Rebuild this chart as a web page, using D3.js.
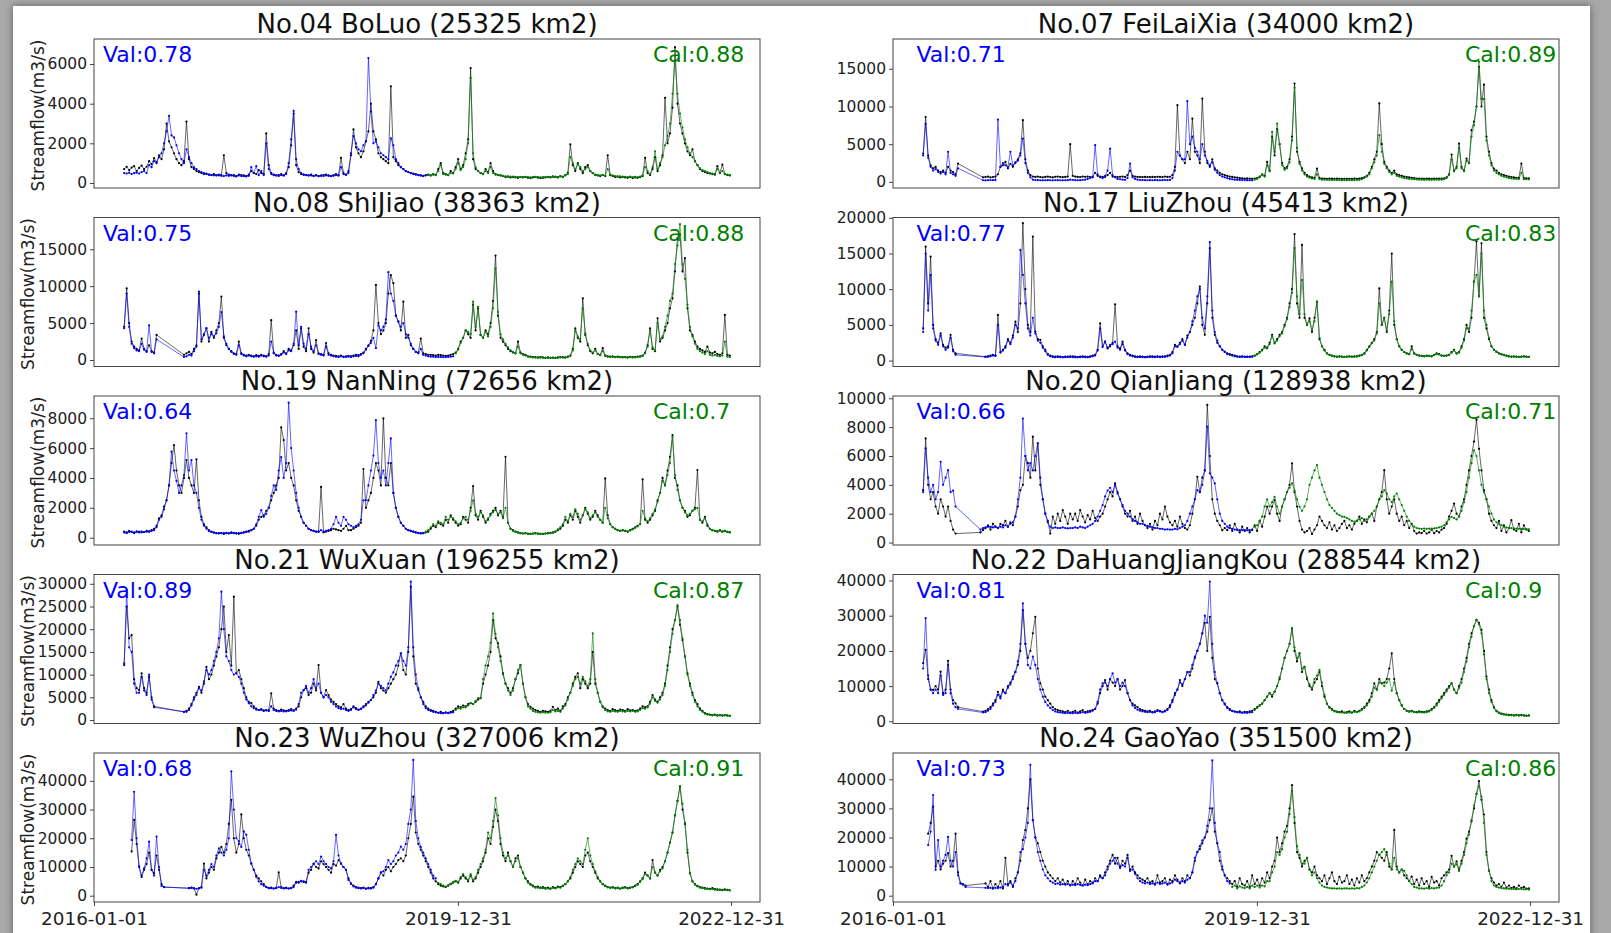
<!DOCTYPE html>
<html>
<head>
<meta charset="utf-8">
<script src="https://cdn.jsdelivr.net/npm/d3@7"></script>
<style>
  body { margin: 0; background: #a9a9a9; }
  svg { display: block; font-family: "DejaVu Sans", sans-serif; }
</style>
</head>
<body>
<script>
// ten gauging stations, row-major order (left, right)
var stationNames = ["No.04 BoLuo (25325 km2)", "No.07 FeiLaiXia (34000 km2)",
    "No.08 ShiJiao (38363 km2)", "No.17 LiuZhou (45413 km2)",
    "No.19 NanNing (72656 km2)", "No.20 QianJiang (128938 km2)",
    "No.21 WuXuan (196255 km2)", "No.22 DaHuangJiangKou (288544 km2)",
    "No.23 WuZhou (327006 km2)", "No.24 GaoYao (351500 km2)"];
var valScores = [0.78, 0.71, 0.75, 0.77, 0.64, 0.66, 0.89, 0.81, 0.68, 0.73];
var calScores = [0.88, 0.89, 0.88, 0.83, 0.7, 0.71, 0.87, 0.9, 0.91, 0.86];
// last day of validation period (simulation drawn blue before, green after)
var valEndDates = ["2019-09-03", "2019-12-22", "2019-12-22", "2019-12-22", "2019-08-24",
    "2019-12-22", "2019-12-22", "2019-12-22", "2019-10-13", "2019-09-23"];
var yTicks = [[0, 2000, 4000, 6000], [0, 5000, 10000, 15000],
    [0, 5000, 10000, 15000], [0, 5000, 10000, 15000, 20000],
    [0, 2000, 4000, 6000, 8000], [0, 2000, 4000, 6000, 8000, 10000],
    [0, 5000, 10000, 15000, 20000, 25000, 30000], [0, 10000, 20000, 30000, 40000],
    [0, 10000, 20000, 30000, 40000], [0, 10000, 20000, 30000, 40000]];
var yLimits = [[-252, 7262], [-810, 18950], [-880, 19300], [-830, 20040], [-490, 9490],
    [-170, 10160], [-770, 32050], [-625, 41700], [-2200, 49700], [-2170, 49040]];
var xTickDates = ["2016-01-01", "2019-12-31", "2022-12-31"];
var xLimits = ["2016-01-01", "2023-04-26"];

// streamflow samples every 10 days from 2016-05-01 (m3/s); null = missing
var SERIES_START = "2016-05-01", STEP_DAYS = 10;

var boluoObs = [
700,820,650,780,850,600,760,880,700,820,
1100,950,1250,1050,1400,1200,1700,3000,2100,1800,
1500,1200,1000,900,1100,3100,1200,800,700,600,
550,500,450,480,420,400,450,380,420,400,
1400,500,420,380,400,350,420,400,380,350,
420,600,500,450,650,500,450,2500,900,500,
420,380,400,450,380,500,800,1900,3500,900,
550,450,420,400,380,420,360,400,350,380,
400,420,380,350,400,450,380,1270,500,420,
600,1400,2700,1800,1500,1300,1600,2100,2600,4000,
2600,2200,1500,1300,1200,1100,1000,4880,1300,1100,
900,800,700,600,550,500,480,450,400,380,
350,400,420,380,450,400,700,1000,500,450,
400,600,500,800,1200,700,900,1500,2200,5800,
1200,700,600,500,450,700,550,1000,600,450,
400,380,350,300,320,280,300,280,260,300,
280,300,260,250,280,300,270,250,260,280,
300,280,320,300,280,350,300,400,500,1950,
900,600,1000,700,500,800,900,600,500,400,
380,350,400,350,1400,400,350,300,320,280,
300,280,260,300,250,280,260,300,350,1270,
500,400,700,1300,600,900,1400,4300,2000,2500,
3800,6850,4000,3000,2500,2000,1600,1400,1700,1100,
900,700,600,550,500,480,450,420,850,500,
930,450,400,380];
var boluoSim = [
500,480,520,450,500,520,480,550,600,500,
900,800,1100,1000,1300,1500,2000,2600,3390,2400,
2300,1900,1500,1200,1000,1700,1300,1000,800,700,
600,550,500,450,420,400,380,400,380,360,
350,380,360,400,350,330,380,350,340,330,
360,800,500,850,400,600,400,2000,700,450,
400,380,350,400,380,450,1000,2200,3640,1200,
700,500,420,400,380,380,350,380,340,360,
350,380,360,340,360,400,380,800,450,400,
500,1500,2370,2000,1700,1600,1900,2100,6300,3600,
2000,2100,1800,1500,1400,1300,1200,2250,1900,1200,
1000,800,700,600,550,500,450,420,400,380,
360,380,400,380,420,400,600,900,450,420,
400,500,480,700,1000,650,800,1200,2000,5300,
1500,800,600,500,450,600,500,800,500,420,
400,380,360,340,330,320,320,310,300,300,
300,310,300,290,300,310,300,290,300,300,
310,300,330,320,300,330,320,380,450,1300,
1000,700,950,800,600,700,800,600,500,420,
400,380,400,370,700,420,380,350,340,330,
320,310,300,320,300,310,300,320,380,800,
600,450,800,1600,700,1000,1300,1900,2370,3000,
4500,6190,4500,3500,2800,2200,1800,1500,1300,1100,
900,750,650,600,550,500,480,450,700,500,
600,450,420,400];

var feilaixiaObs = [
3760,8600,3500,2200,1800,2000,1500,1300,1500,1200,
2000,1500,1300,1000,2430,null,null,null,null,null,
null,null,null,null,600,660,700,600,650,700,
1000,2000,2200,2650,1800,2400,2000,2600,3000,3800,
8190,3000,1500,900,700,660,700,650,600,660,
700,650,600,680,700,650,620,660,700,5000,
800,700,660,650,700,680,700,650,660,1200,
800,700,660,650,900,1200,700,660,650,680,
700,660,900,1500,800,700,660,650,640,660,
650,640,660,650,680,660,650,700,660,680,
900,2000,10180,3500,3000,2500,4000,3000,8400,4000,
3500,2500,11060,4000,2500,2000,3000,1800,1500,1200,
1000,900,800,700,660,600,560,500,480,450,
460,440,420,450,500,700,1000,800,2650,1500,
6000,3500,7000,5000,2500,1800,2000,3000,6000,13050,
4000,2650,1800,1200,900,700,600,550,1770,500,
440,450,420,440,430,420,440,420,400,420,
410,420,400,430,420,450,500,600,800,1200,
2000,3000,4000,10400,5000,2650,2000,1500,1200,1500,
1000,900,800,700,650,600,550,500,450,440,
430,420,440,430,420,440,450,430,440,460,
600,1000,3630,1500,2000,5090,2000,1500,3100,2500,
6860,8000,10000,15270,10000,12900,6000,4000,2500,1770,
1500,1200,1000,900,800,700,650,600,550,520,
2430,500,480,470];
var feilaixiaSim = [
3500,7700,3200,2000,1500,1700,1300,1100,1300,1000,
4000,1200,1000,800,1800,null,null,null,null,null,
null,null,null,null,220,200,220,250,230,240,
8270,2000,2500,2200,2000,4000,2200,2500,2800,3500,
5750,2500,1200,600,300,250,230,220,210,220,
230,220,210,220,230,220,210,220,230,300,
250,230,220,230,250,300,400,500,600,4870,
1000,600,500,800,1500,4400,900,600,400,350,
300,280,500,2430,600,400,300,250,240,230,
220,230,220,240,230,220,230,250,240,260,
500,1500,4000,3500,3000,3000,10700,5000,6000,4500,
4000,3000,5000,3500,2800,2200,2600,1600,1200,900,
700,600,500,400,350,300,280,260,250,240,
230,220,210,300,400,600,900,700,2200,1400,
6640,4000,7740,5000,2200,1600,1800,2600,5500,12500,
4500,2400,1500,1000,700,550,450,400,1000,380,
300,280,270,260,250,250,240,240,230,240,
230,240,230,240,250,280,350,500,700,1000,
1800,2600,3500,6200,4000,2400,1800,1300,1000,1200,
800,700,600,500,450,400,380,350,320,300,
290,280,290,280,270,290,300,290,300,350,
500,900,3000,1400,1800,4500,1800,1400,2800,2500,
6000,7500,10000,15930,11000,11000,5500,3500,2200,1500,
1200,1000,800,700,600,500,450,420,400,380,
1200,360,350,340];

var shijiaoObs = [
4500,9700,5000,2500,1800,1500,1300,2900,1500,1200,
2000,1200,1000,3400,null,null,null,null,null,null,
null,null,null,null,700,900,1100,800,1500,2000,
9000,2500,3400,4300,2500,3800,3000,4000,5000,8600,
3000,2000,1500,1200,900,800,2500,900,700,600,
700,600,500,650,550,700,600,500,800,5400,
1000,700,600,800,1200,900,1500,1300,2000,4000,
1500,4300,1800,1200,4300,1500,1000,2700,900,800,
700,2300,900,700,600,550,500,600,450,500,
550,500,600,700,650,800,1000,1500,2000,2600,
4000,10170,5000,3500,4000,5000,9000,11500,10400,6000,
5200,4000,7900,3000,3400,2000,1500,1100,1000,2900,
900,800,700,700,650,600,700,650,600,550,
600,700,800,1000,1500,2500,3000,4000,3500,3000,
7500,4000,7000,3400,3000,4000,3500,5000,8000,14150,
6000,3000,2500,2000,1500,1200,1000,900,2500,1000,
800,700,500,450,400,380,350,400,350,300,
350,300,320,300,350,400,380,350,450,600,
1500,4300,3000,2500,8360,3400,2000,1200,900,1500,
800,700,1600,600,500,450,500,400,450,400,
380,400,350,420,380,400,450,500,600,1000,
2000,4300,1500,1200,5650,2500,3000,4000,5000,7000,
8360,12000,16500,17000,12000,13800,7000,4000,3400,2500,
1800,1500,1300,1100,1800,1000,900,1100,800,700,
900,6100,700,600];
var shijiaoSim = [
4300,9000,4500,2200,1600,1300,1200,2200,1400,1100,
4700,1100,900,2800,null,null,null,null,null,null,
null,null,null,null,400,500,700,600,1200,1800,
9270,2800,3500,4300,3000,3500,3200,3600,4500,6500,
3200,2200,1500,1100,800,700,2000,800,600,500,
600,500,450,500,450,600,500,450,600,2500,
900,600,550,700,1000,800,1300,1200,2200,6550,
2000,4500,2200,1500,3500,1800,1200,2000,800,700,
600,1800,700,600,500,450,400,500,400,420,
450,420,500,550,500,700,900,1400,1900,2300,
3000,1600,4700,4000,4500,5500,11900,9000,8000,6000,
5200,4500,5000,3500,3000,2200,1500,1100,900,1500,
700,600,500,450,450,400,420,400,380,400,
420,450,500,900,1400,2300,3000,4000,3800,3500,
7900,4500,7200,3400,3000,3800,3200,4500,7000,12400,
6500,3500,2800,2200,1700,1300,1100,900,1800,900,
700,600,450,400,350,330,300,320,300,280,
300,280,300,280,300,350,330,300,400,550,
1300,4000,3200,2800,7000,3600,2200,1300,1000,1300,
800,650,1200,550,450,400,420,380,400,370,
350,360,330,380,350,360,400,450,550,900,
1800,4000,1700,1300,5000,2800,3200,4500,6000,8000,
9000,13000,15500,18400,13000,11000,7500,4500,3200,2200,
1500,1200,1000,800,1200,700,600,700,550,500,
600,2500,450,400];

var liuzhouObs = [
4500,15960,8000,14560,5000,3000,2500,3800,2200,1800,
2000,3600,1500,1000,null,null,null,null,null,null,
null,null,null,null,null,550,600,700,800,700,
6400,1200,1500,2000,3000,2500,3500,5450,4000,8000,
19240,10000,5000,4000,17380,4060,3000,2900,2000,1500,
900,700,600,550,600,550,500,560,550,600,
580,550,500,550,600,550,520,600,700,800,
1500,5230,2000,2650,1700,2000,2500,7890,2000,1700,
2650,1500,1000,800,700,600,550,600,550,500,
550,600,580,550,600,560,580,600,700,800,
1200,2200,2000,2500,3000,2200,3500,4000,5000,6000,
8000,10370,5000,3600,8000,15740,6000,3600,2500,2000,
1500,1250,1000,900,800,700,600,550,600,550,
560,550,600,700,900,1200,1500,2000,1800,2500,
3600,2500,3000,3600,4000,5000,6000,8000,10000,17700,
8000,6000,16200,6000,5000,5900,4000,6000,8260,3000,
2000,1500,1000,800,700,600,550,600,550,520,
550,600,550,580,600,700,800,1000,1500,2000,
2500,3000,4000,10100,5000,6000,4000,7000,15000,5000,
3000,2000,1500,1200,1000,900,2000,1000,800,700,
650,600,700,650,600,800,1000,900,700,650,
700,800,1200,1500,1000,1200,2000,3000,5000,4000,
6000,11050,16680,9000,16430,6000,4500,3000,2000,1500,
1250,1000,900,800,700,600,550,580,550,520,
550,600,540,520];
var liuzhouSim = [
4000,15000,7000,12000,4500,2800,2200,3500,2000,1500,
1800,3200,1300,800,null,null,null,null,null,null,
null,null,null,null,null,500,550,600,700,650,
5000,1100,1400,1800,2800,2300,3200,5000,4500,15500,
12000,8000,4500,3500,6000,3800,2800,2500,1800,1300,
800,600,500,450,500,480,450,480,470,500,
480,460,450,470,500,480,460,500,600,700,
1400,4500,1900,2650,1800,2200,2300,2650,1800,1500,
2300,1400,900,700,600,500,480,500,470,450,
480,500,490,470,500,480,500,520,600,700,
1000,2000,1900,2300,2800,2200,3200,4000,5500,7000,
9000,10000,6000,4500,9000,16580,7000,4000,2800,2000,
1500,1200,900,800,700,600,550,500,520,500,
500,490,520,650,850,1100,1400,1800,1700,2300,
3400,2400,2800,3400,3800,4800,5800,7500,9500,15740,
9000,6500,11300,6500,5000,5500,4200,5500,8260,3200,
2000,1400,1000,800,650,580,530,550,520,500,
520,550,520,540,560,650,750,950,1400,1900,
2400,2800,3800,8000,5000,6000,4200,6500,11050,5500,
3000,2000,1500,1200,1000,900,1600,1000,800,700,
650,600,650,620,600,750,900,850,700,650,
700,750,1100,1400,1000,1100,1800,2800,4500,4500,
7000,11050,12000,9000,15000,7000,5000,3200,2000,1500,
1200,1000,850,750,650,580,530,550,520,500,
520,560,510,500];

var nanningObs = [
400,350,450,380,300,420,350,400,380,450,
420,500,600,800,1300,1500,2080,2500,3500,5000,
6200,4500,3500,3000,4000,5200,4000,3500,3000,5250,
2500,1400,900,700,500,400,350,300,280,300,
250,300,280,320,300,280,260,300,350,400,
450,500,600,800,1200,1400,1500,1800,2000,2500,
3000,3500,4000,7390,6540,4500,5000,4000,3500,2500,
1800,1400,1000,800,600,500,450,400,400,3400,
350,400,450,500,600,550,500,450,600,800,
500,500,600,700,800,1000,4600,2000,2500,3000,
4000,5000,4500,3500,7990,4000,3500,5000,3000,2000,
1400,1000,800,600,500,450,400,350,300,280,
300,350,400,600,800,700,1000,900,800,1200,
1000,1500,1200,1000,800,900,1400,1200,1000,2000,
3460,1500,1200,1800,1400,1000,1200,1600,1800,2000,
1500,1800,1400,5420,1000,600,500,400,350,300,
280,300,260,250,280,300,270,260,250,280,
300,320,350,400,500,600,800,1200,1000,1500,
1200,1800,1400,1000,1500,2000,1600,1200,1400,1800,
1500,1200,1000,3970,1500,900,700,600,500,450,
500,450,400,500,600,700,800,900,3900,1200,
1000,1200,1500,1800,2500,3000,4000,3500,4500,5420,
6870,4000,3500,2500,2000,1800,1400,1500,1800,2000,
4530,1200,1000,1400,800,600,500,450,400,500,
400,450,380,350];
var nanningSim = [
350,300,380,400,350,380,400,350,380,400,
400,450,500,700,1200,1400,1900,2500,3500,5760,
4500,3800,3000,3500,4200,6990,4500,5200,3500,3000,
2000,1200,800,600,450,380,330,300,300,320,
300,320,300,350,320,300,300,320,350,380,
400,500,600,900,1400,1850,1400,1600,2000,2800,
3500,3200,4500,5400,4000,5000,9040,6000,4500,3000,
2000,1400,1000,800,600,500,450,400,400,500,
400,450,500,600,900,1400,1000,800,1400,1200,
900,800,700,800,900,1200,2500,2500,3500,4500,
5500,7880,5000,4000,4500,3500,5000,6650,3000,2000,
1400,1000,800,600,500,450,400,350,320,300,
300,400,500,700,900,800,1100,1000,900,1400,
1200,1400,1300,1100,900,1000,1300,1400,1200,1800,
2500,1600,1400,1700,1500,1100,1300,1500,1700,1850,
1600,1700,1300,2000,1000,600,450,380,330,300,
280,290,270,260,270,280,270,260,250,270,
280,300,320,400,550,700,900,1400,1100,1600,
1400,1900,1600,1200,1500,1900,1700,1300,1500,1700,
1400,1200,1000,2000,1300,900,700,600,500,450,
480,450,420,480,550,650,750,900,1800,1300,
1100,1300,1600,1900,2400,3000,3800,3500,4200,5000,
6760,4200,3200,2500,2000,1700,1500,1600,1800,1900,
2000,1200,1100,1300,900,600,500,450,450,470,
420,430,400,380];

var qianjiangObs = [
3630,7220,4000,3000,3500,2500,2000,3000,2500,1800,
2500,1500,900,620,null,null,null,null,null,null,
null,null,null,700,860,1000,1200,900,1300,1100,
1000,1300,1200,1500,1100,1400,1200,1800,2500,3630,
4000,6000,5500,4500,7340,5000,6880,4000,3000,2000,
1500,620,1800,1300,2000,1500,2250,1800,1300,2000,
1600,2000,1500,2250,1800,1400,1900,1600,2200,1700,
1500,1800,2000,2500,3000,3500,3200,4100,3500,3000,
2500,2000,1800,2200,1500,1800,1300,2000,1500,1200,
1000,1300,900,1500,1200,2000,1600,2500,1800,1400,
1200,1500,1100,1800,1300,1000,900,1200,2000,3000,
4560,3500,4500,5000,9540,6000,3000,2000,1500,1200,
860,1000,860,1200,800,1300,900,700,1100,800,
1000,700,900,1200,800,1500,1100,1800,2500,2000,
2500,2940,2000,1500,2500,3000,3500,4000,5490,3500,
2500,1500,900,700,800,1000,600,900,1200,1800,
1500,1200,1000,1400,900,1200,800,1000,1300,1500,
1000,1200,900,1300,1500,1800,1300,1600,1400,1800,
2000,1500,2500,3000,3500,5020,3000,2000,2500,3000,
2000,1500,1800,1200,1500,1000,1300,800,620,700,
650,800,620,700,900,650,800,700,900,1000,
1300,1800,2200,2700,2000,1800,2500,3000,4000,5000,
6000,7000,8500,6500,5000,3630,3000,2000,1500,1200,
1000,1500,800,1200,700,1000,1550,900,800,1300,
700,1200,900,800];
var qianjiangSim = [
3500,6530,4500,3500,4000,3000,3500,5600,4000,4500,
5020,3500,3600,2500,null,null,null,null,null,null,
null,null,null,900,1000,1050,1100,1090,1050,1100,
1000,1100,1050,1200,1100,1300,1400,1800,3000,4500,
8600,6000,5000,5500,5000,6000,6880,4500,3000,2000,
1400,1100,1000,1050,1000,1000,1050,1000,980,1000,
1000,1050,1000,1100,1050,1000,1100,1200,1300,1500,
1800,2200,2600,3200,3600,3800,3500,3980,3400,3000,
2600,2200,2000,1800,1600,1500,1400,1300,1300,1200,
1150,1100,1050,1000,1000,950,950,900,920,900,
900,950,920,1000,1100,1200,1500,2000,2500,3000,
3630,3500,4000,5000,8030,4800,4500,4100,3000,2000,
1500,1300,1100,1000,950,900,880,860,860,860,
850,870,860,1100,1200,1500,1800,2500,3000,2500,
2800,3170,2500,2000,2500,3000,3500,3800,4100,3600,
3000,2480,2200,2500,3000,4000,4500,5000,5370,4500,
4000,3500,3000,2600,2400,2200,2000,1900,1800,1780,
1700,1600,1500,1450,1500,1600,1700,1500,1600,1800,
2000,2200,2500,3000,3200,3630,3400,3000,2800,3200,
3400,3000,2600,2200,1800,1500,1300,1100,1000,970,
950,970,950,960,970,980,1000,1050,1100,1200,
1400,1600,1780,1700,1600,1800,2200,2800,3500,4500,
5500,6400,6000,5000,4000,3500,3000,2500,2000,1600,
1400,1300,1200,1100,1050,1000,1000,980,960,950,
950,940,930,920];

var wuxuanObs = [
12100,25000,18000,18700,9000,7000,6600,10300,7000,6000,
9500,5000,3000,null,null,null,null,null,null,null,
null,null,null,null,1800,2000,2500,3500,5000,6000,
7300,6000,8000,11700,9000,10000,12000,14000,16000,20000,
25000,15000,18700,12000,27160,10300,11000,9000,7000,5000,
4000,3700,3000,2500,2200,2400,2000,2200,2100,5870,
2500,2200,2000,2300,2100,2000,2200,2400,2100,2500,
3000,5000,6600,7000,5500,6000,8000,6500,12100,6000,
5000,6600,5500,4500,4000,3500,3000,2800,3500,2500,
2200,2400,3000,2600,2300,2500,3000,3500,4000,4400,
5000,6000,8400,7000,6500,6000,7000,8000,9000,10000,
12000,14700,11000,10000,15000,29360,14000,8000,6600,5000,
4000,3000,2500,2200,2000,1800,1600,1800,1500,1700,
1600,1800,2000,2500,3000,2800,3200,3000,3500,3700,
3500,4000,4500,4800,8000,10000,12000,15000,22000,18000,
16900,14000,10300,8000,7000,6000,7000,9000,10300,12100,
8000,5000,3500,2900,2500,2200,2000,1800,2000,1900,
1800,2000,2900,2200,2500,2000,3000,3500,5000,6000,
8000,9500,10300,7000,9000,8000,7000,8000,15000,8000,
6000,4000,3000,2500,2200,2000,2400,2200,2000,2300,
2200,2000,2400,2100,2200,2000,2100,2500,3000,2800,
3000,4000,5500,4500,4000,5000,6000,8000,12000,16000,
20000,22000,25000,21000,17600,14000,10300,8000,6000,4400,
3500,2500,2000,1500,1300,1200,1100,1200,1000,1100,
1000,1100,1000,900];
var wuxuanSim = [
12500,28600,16000,15000,8000,6000,6000,9500,6500,5500,
10000,4500,2800,null,null,null,null,null,null,null,
null,null,null,null,1800,1800,2200,3200,4500,5500,
7000,6500,8500,11000,10000,11000,13000,15000,18000,28260,
20000,14000,13000,11000,10000,10300,9500,8000,6000,4500,
3700,3000,2600,2300,2200,2200,2100,2100,2000,3000,
2200,2000,1900,2000,1900,1900,2000,2100,2000,2300,
3500,6000,6600,7500,6000,7000,9000,7000,8000,6000,
5000,5500,5000,4000,3500,3000,2600,2400,2500,2200,
2000,2200,2800,2400,2200,2400,2800,3200,3800,4400,
5500,6500,8000,7500,7000,6500,8000,9500,10500,12000,
13000,14700,13000,12000,16000,30460,16000,10000,7000,5000,
3500,2600,2200,2000,1800,1700,1600,1500,1500,1600,
1500,1600,1700,2200,2600,2500,2800,2800,3200,3700,
3500,4200,4800,4800,9000,12000,14000,17000,23500,19000,
16000,13000,10000,8000,6500,5500,6500,9000,11000,12100,
8000,5000,3000,2500,2000,1800,1700,1600,1700,1600,
1600,1700,2200,1900,2000,1800,2500,3200,4500,6000,
7500,9000,9500,8000,9500,8500,7500,9000,19100,9000,
6000,4000,2800,2200,1900,1800,2000,1900,1800,2000,
1900,1800,2000,1900,2000,1800,1900,2200,2600,2500,
2800,3600,5000,4200,3800,4500,5500,7500,11000,15000,
19000,22000,25300,22000,18000,14000,10000,7500,5500,4000,
3000,2200,1800,1400,1200,1100,1000,1100,950,1000,
950,1000,950,900];

var dahuangjiangkouObs = [
16500,20300,12000,9000,8900,10000,9000,14100,8000,9000,
17200,9000,6000,5100,4000,null,null,null,null,null,
null,null,null,null,2750,3000,3500,4000,5000,6000,
8400,7000,9000,8000,10000,11000,12700,14000,16000,20000,
31600,22000,18000,20000,25000,29700,15000,10800,9000,7000,
6000,5000,4000,3500,3200,3000,2800,2600,3000,2500,
2700,3000,2500,2800,3200,2600,2800,3000,3200,3500,
5000,8000,10000,11700,9000,12000,11000,10000,12000,9000,
10000,11700,8000,6000,5000,4500,4000,3500,3200,3000,
2800,3000,2600,2800,3200,3000,2700,3000,3500,4500,
6000,8000,9000,11700,10000,12000,14000,13000,15000,18000,
20000,22000,25000,28000,20000,29700,18000,12000,10800,8000,
6000,5000,4000,3500,3000,2750,2600,2800,2500,2700,
2600,2800,3000,3500,4000,4500,5000,6000,7000,8000,
7000,8400,10000,12000,15000,18000,20000,22000,26400,20000,
17000,19300,14000,15500,12000,10000,9000,11000,12000,14000,
10000,7000,5000,4000,3500,3000,2750,2600,2800,2500,
2600,2800,2500,3000,2700,3000,3500,4000,5000,6000,
8000,10800,9000,12000,10800,11000,12000,15000,19300,12000,
8000,6000,4500,3500,3000,2800,3000,2700,2600,2800,
2700,2600,2800,3000,3500,4000,5000,6000,7000,8000,
9000,10000,10800,9000,8000,10000,12000,15000,18000,22000,
25000,27000,28800,28000,26000,20000,12700,9000,6000,4000,
3000,2500,2200,2000,1900,1800,1800,1700,1800,1700,
1800,1700,1600,1700];
var dahuangjiangkouSim = [
15000,29300,13000,9000,8000,9000,8000,13000,7500,8000,
16000,8000,5000,4000,3500,null,null,null,null,null,
null,null,null,null,2500,2600,3000,3500,4500,5500,
7500,6500,8500,8000,9500,10500,12000,14000,17000,22000,
33500,22000,16000,15000,18400,16000,12000,9000,7000,5500,
4500,3800,3200,2800,2600,2500,2400,2300,2400,2300,
2300,2400,2300,2400,2600,2400,2500,2700,3000,3500,
5500,9000,10800,11000,10000,12000,13600,11000,12000,10000,
11000,10000,8000,6000,4500,3800,3300,3000,2800,2700,
2600,2700,2500,2600,2900,2800,2600,2800,3200,4000,
5500,7500,9000,11000,10500,12000,14000,14000,16000,18400,
20000,22000,25000,30000,28000,39700,22000,14000,10800,8000,
6000,4800,3800,3200,2900,2750,2600,2500,2400,2400,
2400,2500,2600,3200,3800,4500,5000,6000,7000,8000,
7500,8400,10000,12500,15000,18000,20000,22000,26400,21000,
18000,19300,15000,15500,12500,10500,9500,12000,13000,14600,
11000,7500,5000,3800,3200,2800,2600,2500,2500,2400,
2400,2500,2400,2700,2600,2800,3200,3800,4500,5500,
7000,9500,9000,11000,10800,10000,11000,12000,8700,11000,
8000,6000,4500,3500,3000,2700,2800,2600,2500,2600,
2500,2500,2600,2800,3200,3800,4500,5500,6500,7500,
8500,9500,10800,9000,8000,9500,11000,14000,17000,21000,
24000,27000,28800,27500,25000,19000,12000,8000,5500,3800,
2800,2300,2000,1900,1800,1700,1700,1600,1700,1600,
1700,1600,1500,1600];

var wuzhouObs = [
null,null,null,15400,26400,18000,10100,6500,9000,11000,
15000,9000,7800,14000,9000,4000,3000,null,null,null,
null,null,null,null,null,null,2600,2800,2500,360,
2600,3000,11200,6000,8000,10000,9000,13000,15000,17000,
15000,18000,25000,33400,20000,15000,18000,28300,20000,16000,
14000,11200,9000,7000,6000,5000,4000,3100,2600,2800,
2500,2700,8100,3000,2600,2800,2500,2700,3500,4800,
4500,5000,4800,4500,8000,9000,11200,10000,9500,12000,
11000,10000,9000,8000,11000,10500,12400,11200,10000,9000,
6000,4200,3500,3000,2800,2600,2800,2500,2700,2600,
3000,4000,6000,8100,7000,9000,10000,8500,10000,11000,
12400,13000,12000,14000,20000,25000,34500,22000,18000,16000,
14000,12000,10000,8000,6000,5000,4000,3500,3200,3000,
3500,4000,4500,5000,4500,6000,7000,6000,5000,7000,
5000,6000,8000,10000,12000,15000,20000,18000,24000,30000,
26000,18000,14000,12000,15000,12000,10000,13000,14000,10000,
8000,6000,5000,4000,3500,3000,3200,2800,3000,2600,
2800,2500,3000,2700,3200,3000,3500,4000,5000,6000,
8000,10000,12000,11000,10000,14000,15000,12000,10000,8000,
6000,5000,4000,3500,3000,2800,3000,2600,2800,2500,
2800,3000,2600,2800,3000,3500,4000,5000,6000,8000,
7000,6000,12400,8000,7000,9000,10000,12000,15000,18500,
22000,28000,33000,38000,30000,25000,15000,7800,5000,4000,
3400,3000,2800,2600,2500,2400,2600,2300,2200,2100,
2000,2200,2000,1900];
var wuzhouSim = [
null,null,null,19400,36200,20000,10100,7000,9500,13000,
18800,9000,7000,20600,10000,3400,3000,null,null,null,
null,null,null,null,null,null,2600,2700,2600,2400,
2500,2800,9000,7000,9000,11000,10000,14000,16500,15000,
14000,16000,20000,43300,30000,20000,19000,17000,22400,21200,
16000,11200,9000,6500,5000,4000,3500,3000,2700,2600,
2500,2600,3000,2700,2500,2600,2500,2600,3000,4500,
4800,5200,5000,4800,9000,10000,11000,12000,11000,13600,
12000,11000,10000,9500,12000,21200,14000,11200,10000,9000,
5500,4200,3200,2800,2600,2500,2600,2400,2500,2500,
2800,4000,6000,8000,8500,10000,12400,11000,12000,14000,
15000,17100,16000,18000,25000,30000,47300,26000,20000,17000,
15000,13000,11000,9000,7000,6000,4500,4000,3500,3200,
3600,4200,4800,5200,4800,6500,7500,6500,5500,7500,
5500,6500,9000,11000,13000,16000,22000,20000,26000,34000,
28000,20000,15000,13000,14000,12000,10000,12000,13000,10000,
8000,6000,4500,3800,3200,2800,2800,2600,2600,2400,
2500,2300,2700,2500,2900,2800,3300,4000,5000,6500,
9000,11000,13000,12000,11000,16000,20000,14000,11000,8500,
6500,5000,4000,3300,2900,2700,2800,2500,2600,2400,
2600,2800,2500,2700,2900,3300,3800,4800,5800,7500,
7000,6000,10000,8000,7000,8500,9500,12000,15000,18500,
22000,28000,33000,38200,32000,25400,16000,7800,5000,3800,
3200,2800,2600,2400,2300,2200,2300,2100,2000,2000,
1900,2000,1900,1800];

var gaoyaoObs = [
null,null,21300,25000,30600,10000,12000,9000,11000,12000,
14600,10000,12000,21300,8000,4200,4000,3500,null,null,
null,null,null,null,null,4200,3000,5000,2500,4000,
3000,5000,2500,13000,4000,5000,3000,6000,8000,12000,
19100,22500,30000,40000,26000,20000,18000,15000,12000,10000,
8000,7000,6000,5000,6000,4500,5500,4000,5000,3500,
5000,4000,6000,4500,3500,5500,4000,5000,4500,6000,
5000,7000,6000,8000,10000,12000,14000,11000,13000,10000,
12000,11000,14000,9000,10000,8000,7000,6000,5500,5000,
6000,4500,5000,4000,7000,4500,5000,6000,4000,5500,
5000,7000,5500,4500,6000,5000,7000,6000,8000,12000,
15000,16000,18000,20000,22000,26000,30000,22000,18000,12000,
9000,7000,6000,5000,4000,5000,3000,6000,4000,3500,
5000,3000,7000,4000,5500,3500,6000,4500,8000,6000,
10000,12000,20000,15000,18000,22000,24000,30000,38000,25000,
15000,13000,10000,12000,13000,9000,8000,10000,7000,6000,
5000,7000,4000,6000,8000,5000,4000,6500,4500,5000,
7000,4000,5500,3500,6000,4500,7000,5000,6000,8000,
10000,12000,15000,14000,13000,12000,15000,10000,9000,22600,
10000,8000,9000,7000,6000,5000,6600,4000,5500,3500,
6000,4000,5000,3000,6500,4500,5000,3500,6000,7000,
8000,9000,13700,10000,11800,9000,12000,15000,19600,22000,
25600,30000,35000,39400,33000,27900,15000,8600,6000,4500,
3500,4000,3000,4500,2800,3500,2600,3000,2500,3500,
2600,3000,2400,2500];
var gaoyaoSim = [
null,null,17400,22000,34600,8900,19100,10000,12000,14000,
20200,12000,10000,15000,7000,4200,3800,3000,null,null,
null,null,null,null,null,2700,2600,2700,2500,2700,
2600,2800,3000,4000,3500,4500,3500,5000,8000,15000,
16000,20000,25000,45000,26000,20000,15000,12000,9000,7000,
6000,5000,4500,4000,4200,3800,4000,3800,4000,3600,
3800,3600,4000,3700,3500,3800,3600,4000,4200,5000,
5000,6500,6000,7000,9000,11000,12000,13000,11000,9500,
10500,10000,13000,8500,9000,7500,6000,5000,4500,4200,
4500,4000,4200,3800,4500,4000,4200,4500,3800,4200,
4500,5500,5000,4200,5000,4500,5500,6000,8000,13000,
15000,17000,19000,20000,24000,30000,46500,25000,18000,15000,
10000,7000,5000,4200,3000,3500,2500,3200,2800,2600,
3000,2500,3500,3000,3500,2800,3500,3200,5000,5000,
8000,10000,15000,14000,16000,20000,22000,28000,36000,27000,
17000,14000,11000,11000,13000,9000,7000,8000,6000,4500,
3500,3000,2800,2600,2500,2500,2400,2500,2400,2500,
2500,2400,2500,2400,2600,2500,3000,3500,4500,6000,
8000,10000,12000,14000,15000,16000,14000,11000,9000,13000,
9000,8000,9000,8500,7000,5000,4000,3000,2800,2500,
2500,2400,2600,2400,2600,2500,2700,2800,3500,5000,
7000,8000,11000,10000,10800,8500,11000,14000,18000,21000,
26000,31000,35000,37600,34000,25000,14000,8600,5000,3500,
3000,2800,2600,2500,2400,2400,2300,2300,2200,2300,
2300,2200,2200,2100];

var obsSeries = [boluoObs, feilaixiaObs, shijiaoObs, liuzhouObs, nanningObs,
    qianjiangObs, wuxuanObs, dahuangjiangkouObs, wuzhouObs, gaoyaoObs];
var simSeries = [boluoSim, feilaixiaSim, shijiaoSim, liuzhouSim, nanningSim,
    qianjiangSim, wuxuanSim, dahuangjiangkouSim, wuzhouSim, gaoyaoSim];

var W = 1611, H = 933;
var plotW = 666, plotH = 149;
var colX = [94, 893], rowTop = 39, rowStep = 178.5;
var FONT = "DejaVu Sans, sans-serif";

var parseDate = d3.utcParse("%Y-%m-%d");
var t0 = parseDate(SERIES_START);
function dateAt(i) { return d3.utcDay.offset(t0, i * STEP_DAYS); }

var svg = d3.select("body").append("svg")
    .attr("width", W)
    .attr("height", H);

var defs = svg.append("defs");
defs.append("filter").attr("id", "shadow")
    .attr("x", -0.02).attr("y", -0.02).attr("width", 1.04).attr("height", 1.04)
  .append("feDropShadow")
    .attr("dx", 0).attr("dy", 0).attr("stdDeviation", 4)
    .attr("flood-color", "#000").attr("flood-opacity", 0.45);

// grey frame around the white page
svg.append("rect").attr("width", W).attr("height", H).attr("fill", "#a9a9a9");
svg.append("rect")
    .attr("x", 13).attr("y", 6).attr("width", 1577).attr("height", H + 20)
    .attr("fill", "#fff")
    .attr("filter", "url(#shadow)");

var xDomain = xLimits.map(parseDate);

stationNames.forEach(function(name, k) {
    var row = Math.floor(k / 2), col = k % 2;
    var x0 = colX[col], y0 = rowTop + row * rowStep;

    var xscale = d3.scaleUtc().domain(xDomain).range([x0, x0 + plotW]);
    var yscale = d3.scaleLinear().domain(yLimits[k]).range([y0 + plotH, y0]);

    var g = svg.append("g").attr("class", "panel");

    defs.append("clipPath").attr("id", "clip" + k)
      .append("rect")
        .attr("x", x0).attr("y", y0)
        .attr("width", plotW).attr("height", plotH);

    var valEnd = parseDate(valEndDates[k]);
    var obs = obsSeries[k].map(function(v, i) { return {t: dateAt(i), v: v}; })
        .filter(function(d) { return d.v != null; });
    var sim = simSeries[k].map(function(v, i) { return {t: dateAt(i), v: v}; })
        .filter(function(d) { return d.v != null; });
    var simVal = sim.filter(function(d) { return d.t < valEnd; });
    var simCal = sim.filter(function(d) { return d.t >= valEnd; });

    var line = d3.line()
        .x(function(d) { return xscale(d.t); })
        .y(function(d) { return yscale(d.v); });

    var plot = g.append("g").attr("clip-path", "url(#clip" + k + ")");
    [[obs, "#000000"], [simVal, "#0000ff"], [simCal, "#008000"]].forEach(function(s) {
        plot.append("path")
            .datum(s[0])
            .attr("d", line)
            .attr("fill", "none")
            .attr("stroke", s[1])
            .attr("stroke-width", 0.8)
            .attr("stroke-opacity", 0.75);
        plot.selectAll(null)
            .data(s[0])
            .enter()
            .append("circle")
                .attr("cx", function(d) { return xscale(d.t); })
                .attr("cy", function(d) { return yscale(d.v); })
                .attr("r", 1.1)
                .attr("fill", s[1]);
    });

    // axes frame
    g.append("rect")
        .attr("x", x0).attr("y", y0)
        .attr("width", plotW).attr("height", plotH)
        .attr("fill", "none")
        .attr("stroke", "#444")
        .attr("stroke-width", 1);

    // y axis
    var ya = g.append("g")
        .attr("transform", "translate(" + x0 + ",0)")
        .call(d3.axisLeft(yscale).tickValues(yTicks[k]).tickSize(4).tickPadding(3)
            .tickFormat(d3.format("d")));
    ya.select(".domain").remove();
    ya.attr("font-family", FONT).attr("font-size", 15.5);
    ya.selectAll("text").attr("fill", "#222");
    ya.selectAll("line").attr("stroke", "#444");

    // x axis only on the bottom row
    if (row === 4) {
        var xa = g.append("g")
            .attr("transform", "translate(0," + (y0 + plotH) + ")")
            .call(d3.axisBottom(xscale).tickValues(xTickDates.map(parseDate))
                .tickSize(4).tickPadding(6).tickFormat(d3.utcFormat("%Y-%m-%d")));
        xa.select(".domain").remove();
        xa.attr("font-family", FONT).attr("font-size", 18.4);
        xa.selectAll("text").attr("fill", "#222");
        xa.selectAll("line").attr("stroke", "#444");
    }

    // title
    g.append("text")
        .attr("x", x0 + plotW / 2)
        .attr("y", y0 - 6)
        .attr("text-anchor", "middle")
        .attr("font-family", FONT)
        .attr("font-size", 26)
        .attr("fill", "#111")
        .text(name);

    // scores
    g.append("text")
        .attr("x", x0 + (col ? 23.5 : 9))
        .attr("y", y0 + 23)
        .attr("font-family", FONT)
        .attr("font-size", 22)
        .attr("fill", "#0000ff")
        .text("Val:" + valScores[k]);
    g.append("text")
        .attr("x", x0 + (col ? 572 : 559))
        .attr("y", y0 + 23)
        .attr("font-family", FONT)
        .attr("font-size", 22)
        .attr("fill", "#008000")
        .text("Cal:" + calScores[k]);

    // y label on the left column, placed just left of the widest tick label
    if (col === 0) {
        var widest = d3.max(ya.selectAll("text").nodes(), function(n) {
            return n.getComputedTextLength();
        });
        var labelX = x0 - 7 - widest - 4;
        g.append("text")
            .attr("transform", "translate(" + labelX + "," + (y0 + plotH / 2 + 2) + ") rotate(-90)")
            .attr("text-anchor", "middle")
            .attr("font-family", FONT)
            .attr("font-size", 17)
            .attr("fill", "#222")
            .text("Streamflow(m3/s)");
    }
});
</script>
</body>
</html>
